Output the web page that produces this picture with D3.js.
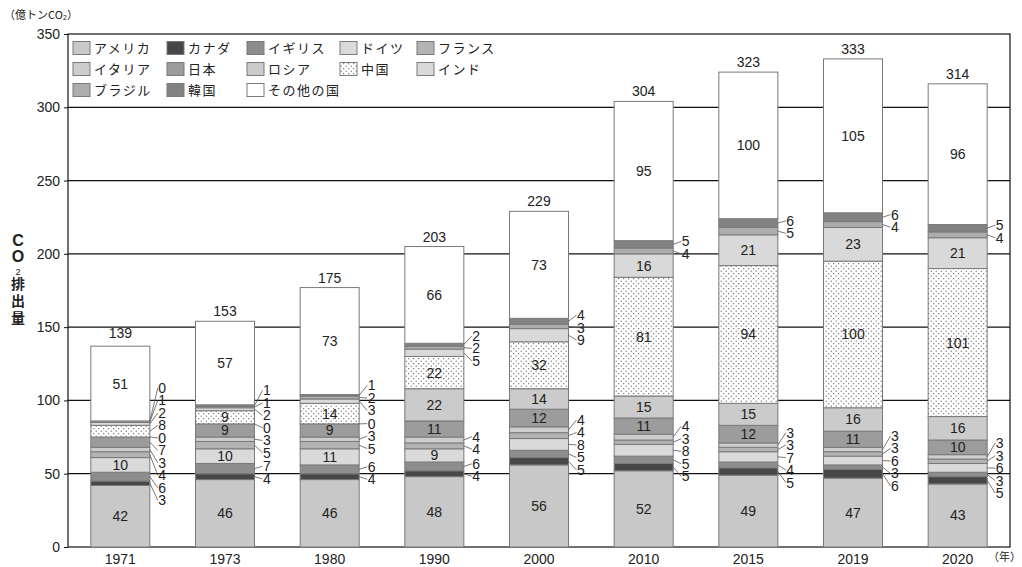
<!DOCTYPE html>
<html lang="ja">
<head>
<meta charset="utf-8">
<title>CO2排出量</title>
<script src="https://cdn.jsdelivr.net/npm/d3@7"></script>
<style>
  body { margin: 0; background: #fff; }
  text { font-family: "Liberation Sans", Arial, "Noto Sans CJK JP", sans-serif; fill: #222; }
  .jp { font-family: "Noto Sans CJK JP", sans-serif; }
</style>
</head>
<body>
<script>
// years and totals (億トンCO2)
var years = ["1971", "1973", "1980", "1990", "2000", "2010", "2015", "2019", "2020"];
var totals = [139, 153, 175, 203, 229, 304, 323, 333, 314];

var countries = ["アメリカ", "カナダ", "イギリス", "ドイツ", "フランス", "イタリア", "日本",
    "ロシア", "中国", "インド", "ブラジル", "韓国", "その他の国"];

var usa     = [42, 46, 46, 48, 56, 52, 49, 47, 43];
var canada  = [3, 4, 4, 4, 5, 5, 5, 6, 5];
var uk      = [6, 7, 6, 6, 5, 5, 4, 3, 3];
var germany = [10, 10, 11, 9, 8, 8, 7, 6, 6];
var france  = [4, 5, 5, 4, 4, 3, 3, 3, 3];
var italy   = [3, 3, 3, 4, 4, 4, 3, 3, 3];
var japan   = [7, 9, 9, 11, 12, 11, 12, 11, 10];
var russia  = [0, 0, 0, 22, 14, 15, 15, 16, 16];
var china   = [8, 9, 14, 22, 32, 81, 94, 100, 101];
var india   = [2, 2, 3, 5, 9, 16, 21, 23, 21];
var brazil  = [1, 1, 2, 2, 3, 4, 5, 4, 4];
var korea   = [0, 1, 1, 2, 4, 5, 6, 6, 5];
var others  = [51, 57, 73, 66, 73, 95, 100, 105, 96];

var yTicks = [0, 50, 100, 150, 200, 250, 300, 350];

var series = [usa, canada, uk, germany, france, italy, japan, russia, china, india, brazil, korea, others];

var fills = ["#c8c8c8", "#474747", "#8d8d8d", "#dadada", "#b3b3b3", "#cdcdcd", "#9c9c9c",
    "#cbcbcb", "url(#dots)", "#d9d9d9", "#adadad", "#828282", "#ffffff"];

var w = 1022, h = 567;
var m = { left: 68, right: 1010, top: 34, bottom: 547 };

var svg = d3.select("body").append("svg").attr("width", w).attr("height", h);

// dotted pattern for China
var pat = svg.append("defs").append("pattern")
    .attr("id", "dots").attr("patternUnits", "userSpaceOnUse")
    .attr("width", 5).attr("height", 5);
pat.append("rect").attr("width", 5).attr("height", 5).attr("fill", "#fff");
pat.append("circle").attr("cx", 1.2).attr("cy", 1.2).attr("r", 0.6).attr("fill", "#555");
pat.append("circle").attr("cx", 3.7).attr("cy", 3.7).attr("r", 0.6).attr("fill", "#555");

var table = years.map(function (yr, i) {
    var row = { year: yr, total: totals[i] };
    countries.forEach(function (c, k) { row[c] = series[k][i]; });
    return row;
});

var stacked = d3.stack().keys(countries)(table);

var x = d3.scaleBand().domain(years).range([m.left, m.right]);
var y = d3.scaleLinear().domain([0, 350]).range([m.bottom, m.top]);
var barW = 59;

// gridlines
svg.append("g").selectAll("line")
    .data(yTicks.slice(1, -1)).enter().append("line")
    .attr("x1", m.left).attr("x2", m.right)
    .attr("y1", function (d) { return y(d); }).attr("y2", function (d) { return y(d); })
    .attr("stroke", "#111").attr("stroke-width", 1.2);

// frame
svg.append("rect").attr("x", m.left).attr("y", y(350))
    .attr("width", m.right - m.left).attr("height", y(0) - y(350))
    .attr("fill", "none").attr("stroke", "#111").attr("stroke-width", 1.2);

// y axis
var yAxis = svg.append("g").attr("transform", "translate(" + m.left + ",0)")
    .call(d3.axisLeft(y).tickValues(yTicks).tickSize(4).tickPadding(4));
yAxis.select(".domain").remove();
yAxis.selectAll("line").attr("stroke", "#111");
yAxis.selectAll("text").attr("font-size", 14).attr("fill", "#222")
    .style("font-family", "'Liberation Sans', Arial, sans-serif");

// x axis labels
var xAxis = svg.append("g").attr("transform", "translate(0," + m.bottom + ")")
    .call(d3.axisBottom(x).tickSize(0).tickPadding(7));
xAxis.select(".domain").remove();
xAxis.selectAll("text").attr("font-size", 14).attr("fill", "#222")
    .style("font-family", "'Liberation Sans', Arial, sans-serif");

svg.append("text").attr("class", "jp").attr("x", 1021).attr("y", 561)
    .attr("text-anchor", "end").attr("font-size", 11).text("（年）");

svg.append("text").attr("class", "jp").attr("x", 4).attr("y", 19)
    .attr("font-size", 11).text("（億トンCO₂）");

// vertical title
var vt = svg.append("g");
[["C", 246, 16], ["O", 262, 16], ["2", 275, 9], ["排", 289, 14], ["出", 306, 14], ["量", 323, 14]]
    .forEach(function (c) {
        vt.append("text").attr("x", 18).attr("y", c[1]).attr("text-anchor", "middle")
            .attr("font-size", c[2]).attr("font-weight", c[0] === "2" ? "normal" : "bold")
            .style("font-family", /[A-Z0-9]/.test(c[0]) ? "'Liberation Sans', Arial, sans-serif" : "'Noto Sans CJK JP', sans-serif")
            .text(c[0]);
    });

// bars
var bx = function (yr) { return x(yr) + (x.bandwidth() - barW) / 2; };
svg.append("g").selectAll("g")
    .data(stacked).enter().append("g")
    .attr("fill", function (d, i) { return fills[i]; })
    .selectAll("rect").data(function (d) { return d; }).enter().append("rect")
    .attr("x", function (d) { return bx(d.data.year); })
    .attr("width", barW)
    .attr("y", function (d) { return y(d[1]); })
    .attr("height", function (d) { return y(d[0]) - y(d[1]); })
    .attr("stroke", "#7a7a7a").attr("stroke-width", 1);

// labels
var outsideExtra = [["2000", "インド"]];
function isInside(year, key, v) {
    if (key === "その他の国") return true;
    for (var i = 0; i < outsideExtra.length; i++) {
        if (outsideExtra[i][0] === year && outsideExtra[i][1] === key) return false;
    }
    return v >= 9;
}

var lab = svg.append("g");
years.forEach(function (yr, i) {
    var xl = bx(yr), xr = xl + barW;
    var outs = [];
    stacked.forEach(function (s) {
        var d = s[i], v = d.data[s.key];
        var mid = y((d[0] + d[1]) / 2);
        if (isInside(yr, s.key, v)) {
            lab.append("text").attr("x", xl + barW / 2).attr("y", mid + 5)
                .attr("text-anchor", "middle").attr("font-size", 14).text(v);
        } else {
            outs.push({ v: v, mid: mid, ly: mid });
        }
    });
    // spread outside labels so they don't overlap
    outs.sort(function (a, b) { return a.mid - b.mid; });
    var gap = 12.5;
    for (var it = 0; it < 300; it++) {
        for (var k = 1; k < outs.length; k++) {
            var ov = gap - (outs[k].ly - outs[k - 1].ly);
            if (ov > 0) { outs[k].ly += ov / 2; outs[k - 1].ly -= ov / 2; }
        }
    }
    outs.forEach(function (o) {
        lab.append("path")
            .attr("d", "M" + xr + "," + o.mid + "L" + (xr + 8) + "," + o.ly)
            .attr("stroke", "#555").attr("stroke-width", 0.8).attr("fill", "none");
        lab.append("text").attr("x", xr + 8.5).attr("y", o.ly + 5)
            .attr("font-size", 14).text(o.v);
    });
    var topY = Math.min(y(totals[i]), y(stacked[stacked.length - 1][i][1]));
    lab.append("text").attr("x", xl + barW / 2).attr("y", topY - 5)
        .attr("text-anchor", "middle").attr("font-size", 14).text(totals[i]);
});

// legend
var colX = [73, 167, 247, 340, 417];
var rowY = [48, 69, 90];
var leg = svg.append("g");
countries.forEach(function (c, i) {
    var lx = colX[i % 5], ly = rowY[Math.floor(i / 5)];
    leg.append("rect").attr("x", lx).attr("y", ly - 6.5).attr("width", 17).attr("height", 13)
        .attr("fill", fills[i]).attr("stroke", "#7a7a7a").attr("stroke-width", 1);
    leg.append("text").attr("class", "jp").attr("x", lx + 21).attr("y", ly + 5)
        .attr("font-size", 13).attr("letter-spacing", 1.5).text(c);
});
</script>
</body>
</html>
